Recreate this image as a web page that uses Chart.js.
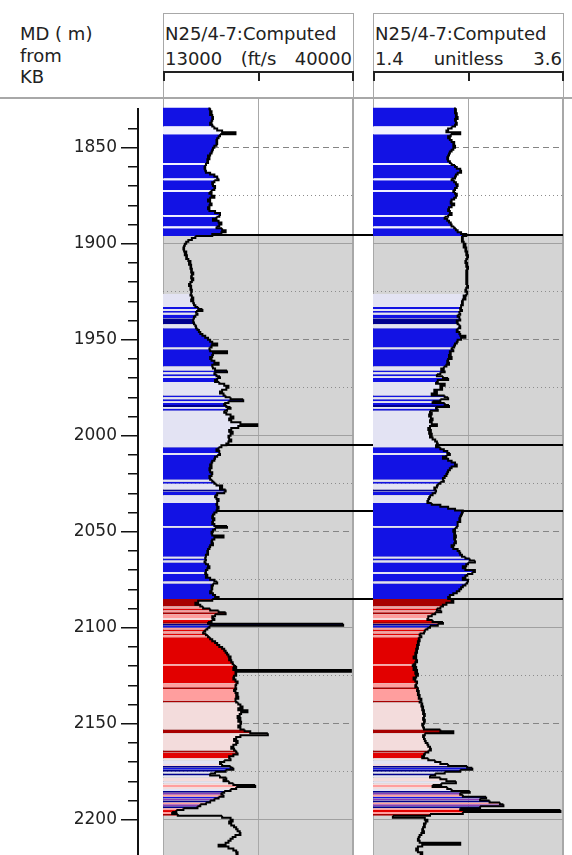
<!DOCTYPE html>
<html>
<head>
<meta charset="utf-8">
<script src="https://cdn.jsdelivr.net/npm/chart.js@4.4.1/dist/chart.umd.min.js"></script>
<style>
  body { margin: 0; width: 572px; height: 855px; overflow: hidden; position: relative; background: #fff;
         font-family: "DejaVu Sans", sans-serif; color: #222; }
  .txt { position: absolute; font-size: 18px; line-height: 18px; white-space: nowrap; }
  .hbox { position: absolute; top: 13px; width: 191px; height: 85px; box-sizing: border-box;
          border: 1px solid #a8a8a8; border-bottom: none; }
  .hrow { position: absolute; width: 191px; display: flex; justify-content: space-between;
          box-sizing: border-box; padding: 0 2px; font-size: 18px; line-height: 18px; white-space: nowrap; }
  .bar { position: absolute; top: 71px; width: 191px; height: 10px; box-sizing: border-box;
         border: 2px solid #222; border-bottom: none; }
  .bar::after { content: ""; position: absolute; left: 93px; top: 0; width: 2px; height: 8px; background: #222; }
  .sep { position: absolute; left: 0; top: 97px; width: 572px; height: 2px; background: #a8a8a8; }
  canvas { position: absolute; }
</style>
</head>
<body>
<div class="txt" style="left:20px;top:25px">MD ( m)</div>
<div class="txt" style="left:20px;top:47px">from</div>
<div class="txt" style="left:20px;top:68px">KB</div>

<div class="hbox" style="left:163px"></div>
<div class="txt" style="left:165px;top:25px">N25/4-7:Computed</div>
<div class="hrow" style="left:163px;top:50px"><span>13000</span><span>(ft/s</span><span>40000</span></div>
<div class="bar" style="left:163px"></div>

<div class="hbox" style="left:373px"></div>
<div class="txt" style="left:375px;top:25px">N25/4-7:Computed</div>
<div class="hrow" style="left:373px;top:50px"><span>1.4</span><span>unitless</span><span>3.6</span></div>
<div class="bar" style="left:373px"></div>

<div class="sep"></div>

<canvas id="depthAxis" width="150" height="747" style="left:0;top:108px"></canvas>
<canvas id="track1" width="210" height="757" style="left:153px;top:98px"></canvas>
<canvas id="track2" width="210" height="757" style="left:363px;top:98px"></canvas>

<script>
Chart.defaults.font.family = 'DejaVu Sans';

// depth sampling (m, measured depth from KB)
const depthStart = 1829;
const depthStep = 1;
const depthMin = 1824.1;
const depthMax = 2218.4;
const axisTopDepth = 1829.3;

// N25/4-7 Computed velocity, ft/s, one value per metre from 1829 m
const compVelocity = [
  19600,
  19700, 19900, 19700, 20000, 20100, 20000, 19900, 19700, 20000, 20300,
  20700, 21400, 23300, 21100, 20900, 20700, 20600, 20700, 20600, 20300,
  20100, 20000, 19900, 19700, 19400, 19600, 19300, 19400, 19100, 19000,
  18900, 19000, 19100, 19700, 20300, 20700, 20900, 20300, 20000, 20100,
  20400, 20300, 19900, 19600, 19900, 20300, 19700, 19400, 19700, 19900,
  19600, 19400, 19600, 20400, 21100, 21000, 20600, 20100, 20900, 21300,
  21000, 20600, 21400, 21900, 21300, 20000, 17600, 17100, 16600, 16300,
  16100, 16000, 15900, 16000, 16300, 16100, 16400, 16300, 16600, 16900,
  16700, 17000, 16900, 17100, 17000, 17300, 17100, 17000, 17300, 17100,
  16900, 16700, 17000, 16900, 17100, 17000, 16900, 17100, 17300, 17000,
  17300, 17400, 17600, 18000, 18600, 17700, 17900, 17600, 17400, 17300,
  17300, 17400, 17600, 17700, 17900, 18100, 18300, 18600, 19000, 19400,
  19700, 20000, 20700, 19900, 19600, 19700, 22100, 20100, 20000, 19700,
  19900, 20300, 20900, 20000, 20100, 20400, 22100, 20300, 20600, 21100,
  20700, 20400, 21000, 21700, 22300, 22000, 21400, 21100, 21600, 21900,
  22600, 24400, 22300, 21700, 22000, 22600, 22100, 21700, 22000, 22600,
  23000, 22400, 22700, 24000, 26400, 23700, 22700, 22400, 22900, 22600,
  22300, 22400, 22700, 22300, 22000, 21300, 20900, 20600, 21000, 21100,
  20700, 20400, 20300, 20000, 19900, 19700, 19900, 19600, 19700, 20000,
  19900, 19600, 19700, 20000, 20300, 20600, 21400, 21100, 21900, 21700,
  20700, 20400, 20600, 20900, 20700, 20600, 20700, 20900, 20700, 20600,
  20300, 20100, 20000, 20300, 20100, 20000, 20300, 22100, 20400, 20100,
  19900, 20000, 21600, 20300, 20000, 19900, 20100, 19700, 19600, 19400,
  19300, 19400, 19100, 19000, 19100, 18900, 19100, 19400, 19600, 19300,
  19100, 19000, 19300, 19100, 19700, 20300, 20700, 20100, 19900, 20000,
  19900, 19700, 20100, 20400, 20900, 20000, 18000, 17600, 18300, 18700,
  19700, 20900, 21900, 20400, 20000, 20300, 19900, 19400, 38600, 19600,
  19300, 19000, 18700, 19100, 19400, 19700, 20000, 20400, 20700, 21000,
  21400, 21700, 21900, 22100, 22300, 22600, 22400, 22700, 22900, 23100,
  23400, 23000, 39700, 23300, 23400, 23100, 23000, 23300, 23600, 23400,
  23300, 23400, 23100, 23300, 23600, 23400, 23700, 23300, 23400, 23700,
  24000, 24300, 23700, 25000, 24100, 23900, 23600, 24000, 23700, 24100,
  24000, 23700, 24000, 24600, 25400, 27900, 24000, 23400, 23100, 23600,
  23400, 23000, 22700, 23100, 23400, 23600, 23000, 22400, 22600, 21700,
  21100, 21400, 22600, 23000, 21900, 20400, 19700, 21100, 22000, 21600,
  22400, 23000, 26100, 23400, 22600, 21700, 21300, 21600, 20900, 20300,
  19700, 19100, 18300, 17900, 15900, 14900, 14300, 15100, 21400, 22600,
  22900, 22400, 22700, 23100, 23400, 23600, 23900, 24000, 23300, 22900,
  22600, 22300, 21900, 20900, 22300, 23000, 23400, 23600, 23300
];

// N25/4-7 Computed ratio, unitless, one value per metre from 1829 m
const compRatio = [
  2.35,
  2.36, 2.35, 2.37, 2.36, 2.38, 2.35, 2.36, 2.37, 2.35, 2.31,
  2.27, 2.25, 2.41, 2.30, 2.27, 2.29, 2.31, 2.34, 2.33, 2.35,
  2.33, 2.31, 2.29, 2.28, 2.27, 2.26, 2.27, 2.29, 2.31, 2.35,
  2.37, 2.41, 2.42, 2.38, 2.36, 2.35, 2.31, 2.34, 2.36, 2.38,
  2.37, 2.35, 2.33, 2.35, 2.37, 2.36, 2.34, 2.31, 2.30, 2.34,
  2.31, 2.28, 2.27, 2.29, 2.31, 2.27, 2.23, 2.26, 2.28, 2.30,
  2.31, 2.34, 2.36, 2.38, 2.42, 2.48, 2.43, 2.44, 2.43, 2.45,
  2.47, 2.45, 2.48, 2.47, 2.49, 2.48, 2.50, 2.49, 2.48, 2.47,
  2.49, 2.48, 2.50, 2.49, 2.48, 2.49, 2.48, 2.49, 2.48, 2.49,
  2.48, 2.49, 2.50, 2.48, 2.47, 2.49, 2.48, 2.45, 2.47, 2.44,
  2.43, 2.44, 2.42, 2.41, 2.43, 2.40, 2.41, 2.38, 2.40, 2.41,
  2.37, 2.38, 2.40, 2.41, 2.38, 2.37, 2.40, 2.41, 2.47, 2.42,
  2.38, 2.37, 2.35, 2.34, 2.31, 2.33, 2.29, 2.30, 2.28, 2.31,
  2.27, 2.26, 2.28, 2.25, 2.22, 2.19, 2.23, 2.18, 2.14, 2.21,
  2.27, 2.15, 2.13, 2.23, 2.18, 2.20, 2.11, 2.14, 2.08, 2.23,
  2.27, 2.18, 2.09, 2.23, 2.28, 2.13, 2.15, 2.06, 2.08, 2.05,
  2.07, 2.09, 2.06, 2.08, 2.14, 2.06, 2.04, 2.07, 2.05, 2.08,
  2.06, 2.09, 2.12, 2.14, 2.15, 2.13, 2.18, 2.22, 2.26, 2.29,
  2.25, 2.21, 2.27, 2.31, 2.35, 2.37, 2.31, 2.29, 2.27, 2.26,
  2.25, 2.23, 2.21, 2.22, 2.18, 2.15, 2.14, 2.11, 2.13, 2.12,
  2.09, 2.06, 2.05, 2.04, 2.03, 2.08, 2.18, 2.27, 2.35, 2.44,
  2.43, 2.42, 2.41, 2.40, 2.41, 2.38, 2.38, 2.37, 2.35, 2.33,
  2.35, 2.34, 2.36, 2.34, 2.35, 2.36, 2.34, 2.31, 2.33, 2.38,
  2.40, 2.41, 2.43, 2.47, 2.52, 2.58, 2.50, 2.48, 2.44, 2.47,
  2.58, 2.55, 2.49, 2.47, 2.44, 2.50, 2.49, 2.47, 2.44, 2.42,
  2.40, 2.37, 2.33, 2.29, 2.27, 2.31, 2.33, 2.25, 2.21, 2.18,
  2.14, 2.19, 2.12, 2.08, 2.04, 2.03, 2.09, 2.21, 2.15, 2.06,
  2.03, 2.00, 1.99, 1.94, 1.96, 1.93, 1.94, 1.92, 1.93, 1.91,
  1.92, 1.90, 1.91, 1.89, 1.90, 1.87, 1.90, 1.91, 1.89, 1.86,
  1.90, 1.87, 1.91, 1.89, 1.92, 1.90, 1.87, 1.89, 1.91, 1.90,
  1.89, 1.92, 1.91, 1.93, 1.92, 1.94, 1.93, 1.96, 1.94, 1.97,
  1.96, 1.98, 1.97, 1.99, 1.98, 2.00, 1.99, 1.98, 2.00, 1.99,
  1.97, 1.98, 1.99, 2.18, 2.33, 2.00, 1.98, 1.99, 2.00, 2.01,
  2.03, 2.04, 2.06, 2.07, 2.04, 2.00, 1.99, 1.97, 2.04, 2.12,
  2.18, 2.27, 2.49, 2.55, 2.41, 2.23, 2.12, 2.06, 2.18, 2.25,
  2.36, 2.19, 2.09, 2.26, 2.31, 2.52, 2.41, 2.44, 2.71, 2.64,
  2.75, 2.87, 2.91, 2.64, 2.41, 3.57, 2.44, 2.06, 1.63, 2.00,
  2.03, 2.01, 1.99, 2.00, 1.98, 1.97, 1.99, 1.96, 1.94, 1.93,
  1.92, 1.94, 2.41, 1.97, 1.92, 1.90, 1.92, 1.97, 1.94
];

// colour-class intervals shared by both tracks (top depth of each interval, class code)
const faciesTop = [
  1829, 1839, 1843, 1858, 1859, 1866, 1867, 1872, 1873, 1885, 1886, 1891, 1892, 1896,
  1926, 1933, 1934, 1935, 1936, 1937, 1939, 1942, 1944, 1954, 1955, 1964, 1966, 1967,
  1968, 1969, 1970, 1972, 1979, 1980, 1981, 1982, 1983, 1984, 1985, 1986, 1987, 2006,
  2009, 2010, 2023, 2024, 2025, 2028, 2029, 2031, 2035, 2047, 2048, 2063, 2064, 2065,
  2066, 2071, 2072, 2076, 2077, 2085, 2089, 2090, 2091, 2092, 2093, 2095, 2096, 2097,
  2098, 2099, 2100, 2101, 2102, 2103, 2104, 2105, 2119, 2120, 2129, 2131, 2132, 2138,
  2139, 2153, 2155, 2164, 2165, 2168, 2169, 2171, 2172, 2173, 2174, 2175, 2176, 2177,
  2178, 2180, 2181, 2182, 2183, 2184, 2185, 2186, 2187, 2188, 2189, 2190, 2191, 2192,
  2193, 2194, 2195, 2196, 2197, 2198
];
const faciesCode = [
  'B','W','B','W','B','W','B','W','B','W','B','W','B','n',
  'L','B','L','B','L','B','D','L','B','L','B','L','B','L',
  'B','L','B','L','B','L','B','L','B','D','L','B','L','B',
  'L','B','L','B','L','D','B','L','B','L','B','L','B','L',
  'B','L','B','L','B','M','P','R','P','M','P','Q','R','M',
  'D','B','P','R','P','R','P','R','P','R','P','M','P','M',
  'Q','M','Q','M','R','Q','L','Q','D','B','D','L','D','L',
  'Q','L','Q','P','Q','L','D','V','P','B','V','D','P','V',
  'D','P','R','P','M','n'
];
const faciesColors = {
  B: '#1212e4', D: '#00008e', W: '#f2f2ff', L: '#e3e3f3',
  R: '#e20000', M: '#a80000', P: '#ff9e9e', Q: '#f3dcdc', V: '#8a3cb4',
  n: 'rgba(0,0,0,0)'
};

const formationTops = [1895.4, 2004.8, 2039.2, 2085.2];
const shadedZoneTop = 1895.4;

function faciesAt(depth) {
  let code = 'n';
  for (let i = 0; i < faciesTop.length; i++) {
    if (faciesTop[i] <= depth) code = faciesCode[i];
  }
  return code;
}

const zoneShade = {
  id: 'zoneShade',
  beforeDraw(chart) {
    const {ctx, chartArea, scales} = chart;
    const top = scales.y.getPixelForValue(shadedZoneTop);
    ctx.save();
    ctx.fillStyle = '#d4d4d4';
    ctx.fillRect(chartArea.left, top, chartArea.right - chartArea.left, chartArea.bottom - top);
    ctx.restore();
  }
};

const topsLines = {
  id: 'topsLines',
  beforeDatasetsDraw(chart, args, opts) {
    const {ctx, chartArea, scales} = chart;
    ctx.save();
    ctx.strokeStyle = '#000';
    ctx.lineWidth = 2;
    formationTops.forEach(d => {
      const py = Math.round(scales.y.getPixelForValue(d));
      ctx.beginPath();
      ctx.moveTo(chartArea.left - (opts.extendLeft || 0), py);
      ctx.lineTo(chartArea.right + (opts.extendRight || 0), py);
      ctx.stroke();
    });
    ctx.restore();
  }
};

function gridColor(c) {
  const v = c.tick && c.tick.value;
  if (v == null || v % 25 !== 0) return 'rgba(0,0,0,0)';
  if (v % 100 === 0) return '#a0a0a0';
  if (v % 50 === 0) return '#858585';
  return '#8c8c8c';
}
function gridDash(c) {
  const v = c.tick && c.tick.value;
  if (v == null || v % 100 === 0) return [];
  if (v % 50 === 0) return [6, 4];
  return [1, 3];
}

function makeTrack(canvasId, values, xMin, xMax, extendLeft, extendRight) {
  const points = values.map((v, i) => ({x: v, y: depthStart + i * depthStep}));
  const colors = points.map(p => faciesColors[faciesAt(p.y)]);
  return new Chart(document.getElementById(canvasId), {
    type: 'line',
    data: {
      datasets: [{
        data: points,
        borderColor: '#000',
        borderWidth: 2,
        pointRadius: 0,
        stepped: 'after',
        fill: {value: xMin},
        backgroundColor: 'rgba(0,0,0,0)',
        segment: { backgroundColor: c => colors[c.p0DataIndex] }
      }]
    },
    options: {
      indexAxis: 'y',
      responsive: false,
      maintainAspectRatio: false,
      animation: false,
      layout: { padding: { left: 10, right: 10, top: 0, bottom: 0 } },
      plugins: {
        legend: { display: false },
        tooltip: { enabled: false },
        topsLines: { extendLeft: extendLeft, extendRight: extendRight }
      },
      scales: {
        x: {
          type: 'linear', position: 'top', min: xMin, max: xMax,
          afterFit: s => { s.height = 0; },
          ticks: { display: false, stepSize: (xMax - xMin) / 2 },
          grid: { drawTicks: false, color: '#a8a8a8',
                  lineWidth: c => (c.tick && Math.abs(c.tick.value - xMax) < 1e-6) ? 2 : 1 },
          border: { display: false }
        },
        y: {
          type: 'linear', reverse: true, min: depthMin, max: depthMax,
          afterFit: s => { s.width = 0; },
          ticks: { display: false, stepSize: 25 },
          grid: { drawTicks: false, color: gridColor, lineWidth: 1 },
          border: { display: false, dash: gridDash }
        }
      }
    },
    plugins: [zoneShade, topsLines]
  });
}

makeTrack('track1', compVelocity, 13000, 40000, 0, 10);
makeTrack('track2', compRatio, 1.4, 3.6, 10, 0);

new Chart(document.getElementById('depthAxis'), {
  type: 'line',
  data: { datasets: [] },
  options: {
    responsive: false,
    maintainAspectRatio: false,
    animation: false,
    layout: { padding: { left: 0, right: 12, top: 0, bottom: 0 } },
    plugins: { legend: { display: false }, tooltip: { enabled: false } },
    scales: {
      x: { type: 'linear', display: false },
      y: {
        type: 'linear', position: 'left', reverse: true, min: axisTopDepth, max: depthMax,
        afterFit: s => { s.width = 128; s.paddingTop = 0; s.paddingBottom = 0; },
        ticks: {
          stepSize: 10, autoSkip: false, padding: 4, color: '#222',
          font: { size: 17 },
          callback: v => (v % 50 === 0 ? String(v) : '')
        },
        grid: {
          drawOnChartArea: true,
          color: c => (c.tick && c.tick.value % 10 === 0) ? '#111' : 'rgba(0,0,0,0)',
          lineWidth: 1.5,
          tickLength: 7,
          tickWidth: 1.5,
          tickColor: c => (c.tick && c.tick.value % 50 === 0) ? '#111' : 'rgba(0,0,0,0)'
        },
        border: { display: false }
      },
      y2: {
        type: 'linear', position: 'right', reverse: true, min: axisTopDepth, max: depthMax,
        afterFit: s => { s.width = 0; s.paddingTop = 0; s.paddingBottom = 0; },
        ticks: { display: false },
        grid: { drawOnChartArea: false, drawTicks: false },
        border: { display: true, color: '#111', width: 2 }
      }
    }
  }
});
</script>
</body>
</html>
